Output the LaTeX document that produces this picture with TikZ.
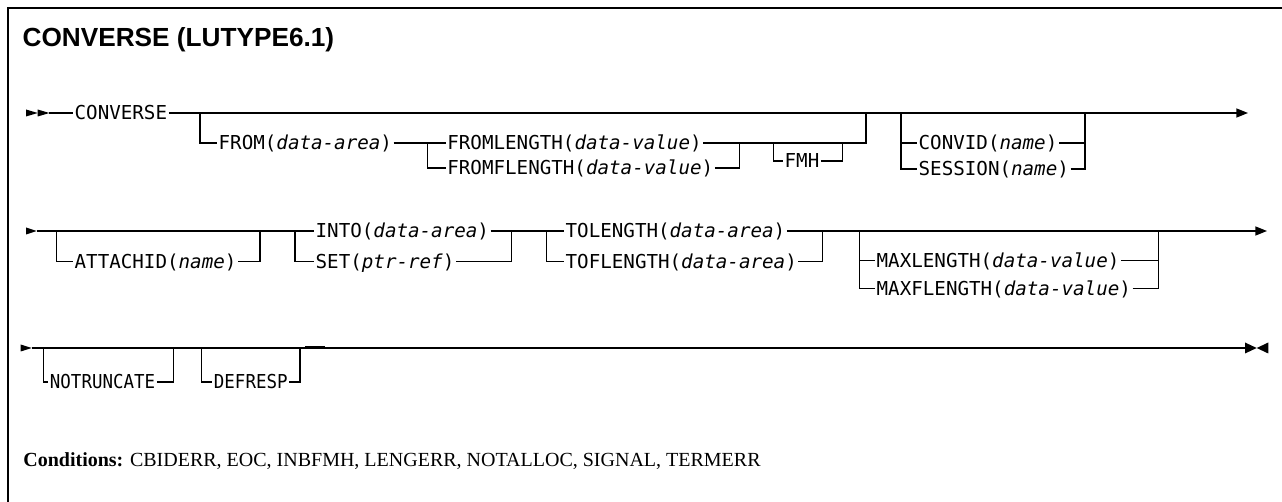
\documentclass[tikz,border=0pt]{standalone}
\usepackage{fontspec}
\setmainfont{Liberation Serif}
\newfontfamily\synfont{DejaVu Sans Mono}
\newfontfamily\synnarrow[FakeStretch=0.91]{DejaVu Sans Mono}
\newfontfamily\headfont{Liberation Sans}
\usetikzlibrary{arrows.meta}

\tikzset{
  kw/.style={anchor=west, inner xsep=0.5pt, inner ysep=0pt, text height=7pt, text depth=0pt,
    font=\synfont\fontsize{9.6}{11}\selectfont},
  kwnarrow/.style={kw, font=\synnarrow\fontsize{9.6}{11}\selectfont},
  endtip/.style={-{Triangle[length=5.8pt,width=4.5pt]}},
}

\begin{document}
\begin{tikzpicture}[x=0.5pt,y=-0.5pt,line width=0.65pt]
        \useasboundingbox (0,0) rectangle (1282,502);
        \draw[line width=0.8pt] (1282,8)--(8,8)--(8,502);

        \node[anchor=base west, inner sep=0pt, font=\headfont\bfseries\fontsize{13.1}{15}\selectfont] (title) at (22,47) {CONVERSE (LUTYPE6.1)};

        % first line
        \foreach \x in {26,37.7}{
          \fill (\x,109.5) -- ++(11.7,3.5) -- ++(-11.7,3.5) -- cycle;
        }
        \coordinate (s1) at (49.4,113);
        \coordinate (e1) at (1248,113);
        \node[kw] (converse) at (73,113) {CONVERSE};
        \draw (s1)--(converse);
        \draw[endtip] (converse)--(e1);

        \coordinate (fromL) at (200,113);
        \coordinate (fromR) at (866,113);
        \coordinate (fromRb) at (866,143);
        \node[kw] (from) at (217,143) {FROM(\textit{data-area})};
        \draw (fromL) |- (from);

        \coordinate (flenL) at (427.5,143);
        \coordinate (flenR) at (739.3,143);
        \node[kw] (fromlen) at (445.7,143) {FROMLENGTH(\textit{data-value})};
        \node[kw] (fromflen) at (445.7,168) {FROMFLENGTH(\textit{data-value})};
        \draw (from)--(flenL)--(fromlen);
        \draw (flenL) |- (fromflen);
        \draw (fromlen)--(flenR);
        \draw (fromflen.east) -| (flenR);
        \draw (flenR)--(fromRb)--(fromR);

        \coordinate (fmhL) at (773.3,143);
        \coordinate (fmhR) at (842.7,143);
        \node[kw] (fmh) at (783,161) {FMH};
        \draw (fmhL) |- (fmh);
        \draw (fmh.east) -| (fmhR);

        \coordinate (cvL) at (901,113);
        \coordinate (cvR) at (1085,113);
        \node[kw] (convid) at (917,143) {CONVID(\textit{name})};
        \node[kw] (session) at (917,169) {SESSION(\textit{name})};
        \draw (cvL) |- (convid);
        \draw (cvL) |- (session);
        \draw (convid.east) -| (cvR);
        \draw (session.east) -| (cvR);

        % second line
        \fill (26,227.5) -- ++(10.7,3.5) -- ++(-10.7,3.5) -- cycle;
        \coordinate (s2) at (36.7,231);
        \coordinate (e2) at (1267,231);

        \coordinate (attL) at (56.7,231);
        \coordinate (attR) at (260,231);
        \node[kw] (attachid) at (73,261.5) {ATTACHID(\textit{name})};
        \draw (attL) |- (attachid);
        \draw (attachid.east) -| (attR);

        \coordinate (intoL) at (295,231);
        \coordinate (intoR) at (511.7,231);
        \node[kw] (into) at (314,231) {INTO(\textit{data-area})};
        \node[kw] (set) at (314,261.5) {SET(\textit{ptr-ref})};
        \draw (s2)--(intoL)--(into);
        \draw (intoL) |- (set);
        \draw (into)--(intoR);
        \draw (set.east) -| (intoR);

        \coordinate (tolL) at (546.7,231);
        \coordinate (tolR) at (822.7,231);
        \node[kw] (tolen) at (564,231) {TOLENGTH(\textit{data-area})};
        \node[kw] (toflen) at (564,261.5) {TOFLENGTH(\textit{data-area})};
        \draw (intoR)--(tolL)--(tolen);
        \draw (tolL) |- (toflen);
        \draw (tolen)--(tolR);
        \draw (toflen.east) -| (tolR);
        \draw[endtip] (tolR)--(e2);

        \coordinate (maxL) at (859.3,231);
        \coordinate (maxR) at (1158.3,231);
        \node[kw] (maxlen) at (875,260.7) {MAXLENGTH(\textit{data-value})};
        \node[kw] (maxflen) at (875,288.3) {MAXFLENGTH(\textit{data-value})};
        \draw (maxL) |- (maxlen);
        \draw (maxL) |- (maxflen);
        \draw (maxlen.east) -| (maxR);
        \draw (maxflen.east) -| (maxR);

        % third line
        \fill (20.7,344.5) -- ++(11,3.5) -- ++(-11,3.5) -- cycle;
        \coordinate (s3) at (31.7,348);
        \coordinate (e3) at (1245,348);
        \draw (s3)--(e3);
        \draw[line width=1.4pt] (305,347.3)--(325,347.3);

        \coordinate (ntL) at (43.3,348);
        \coordinate (ntR) at (173.3,348);
        \node[kwnarrow] (notrunc) at (48.3,382) {NOTRUNCATE};
        \draw (ntL) |- (notrunc);
        \draw (notrunc.east) -| (ntR);

        \coordinate (drL) at (201.7,348);
        \coordinate (drR) at (300,348);
        \node[kwnarrow] (defresp) at (212.3,382) {DEFRESP};
        \draw (drL) |- (defresp);
        \draw (defresp.east) -| (drR);

        \fill (1245,342.5) -- (1256.7,348) -- (1245,353.5) -- cycle;
        \fill (1268.3,342.5) -- (1256.7,348) -- (1268.3,353.5) -- cycle;

        \node[anchor=base west, inner sep=0pt, font=\fontsize{10}{12}\selectfont] (cond) at (22.7,466.7)
          {\textbf{Conditions:} CBIDERR, EOC, INBFMH, LENGERR, NOTALLOC, SIGNAL, TERMERR};
\end{tikzpicture}
\end{document}
